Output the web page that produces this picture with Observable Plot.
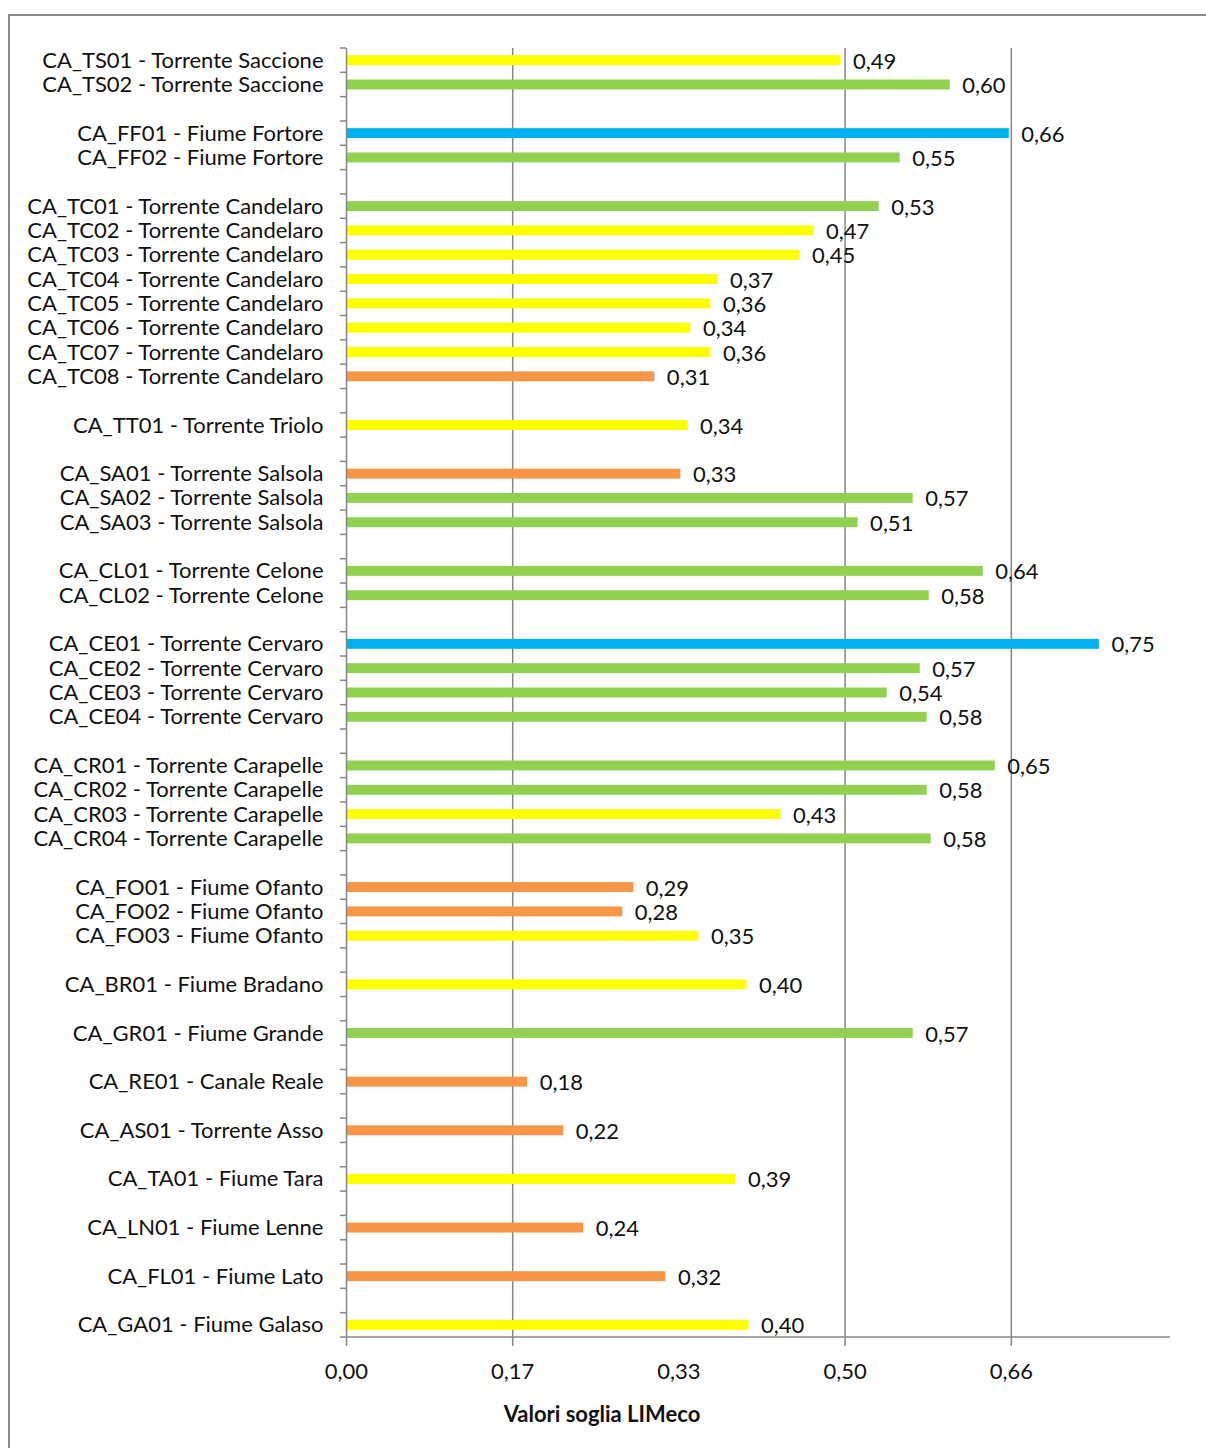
<!DOCTYPE html>
<html>
<head>
<meta charset="utf-8">
<script src="https://cdn.jsdelivr.net/npm/d3@7"></script>
<script src="https://cdn.jsdelivr.net/npm/@observablehq/plot@0.6"></script>
<style>
  html, body { margin: 0; padding: 0; background: #fff; }
  #wrap { position: relative; width: 1206px; height: 1448px; overflow: hidden; background: #fff; }
  #frame { position: absolute; left: 8px; top: 14px; width: 1400px; height: 1600px;
           border-top: 2px solid #8a8a8a; border-left: 2px solid #8a8a8a; box-sizing: border-box; }
  #chart { position: absolute; left: 0; top: 0; }
  #xtitle { position: absolute; left: 0; top: 1400px; width: 1204px; text-align: center;
            font-family: Lato, sans-serif; font-weight: bold; font-size: 22px; color: #111; }
</style>
</head>
<body>
<div id="wrap">
  <div id="frame"></div>
  <div id="chart"></div>
  <div id="xtitle">Valori soglia LIMeco</div>
</div>
<script>
// ---- data ----
const stations = [
  "CA_TS01 - Torrente Saccione", "CA_TS02 - Torrente Saccione",
  "CA_FF01 - Fiume Fortore", "CA_FF02 - Fiume Fortore",
  "CA_TC01 - Torrente Candelaro", "CA_TC02 - Torrente Candelaro", "CA_TC03 - Torrente Candelaro",
  "CA_TC04 - Torrente Candelaro", "CA_TC05 - Torrente Candelaro", "CA_TC06 - Torrente Candelaro",
  "CA_TC07 - Torrente Candelaro", "CA_TC08 - Torrente Candelaro",
  "CA_TT01 - Torrente Triolo",
  "CA_SA01 - Torrente Salsola", "CA_SA02 - Torrente Salsola", "CA_SA03 - Torrente Salsola",
  "CA_CL01 - Torrente Celone", "CA_CL02 - Torrente Celone",
  "CA_CE01 - Torrente Cervaro", "CA_CE02 - Torrente Cervaro", "CA_CE03 - Torrente Cervaro", "CA_CE04 - Torrente Cervaro",
  "CA_CR01 - Torrente Carapelle", "CA_CR02 - Torrente Carapelle", "CA_CR03 - Torrente Carapelle", "CA_CR04 - Torrente Carapelle",
  "CA_FO01 - Fiume Ofanto", "CA_FO02 - Fiume Ofanto", "CA_FO03 - Fiume Ofanto",
  "CA_BR01 - Fiume Bradano",
  "CA_GR01 - Fiume Grande",
  "CA_RE01 - Canale Reale",
  "CA_AS01 - Torrente Asso",
  "CA_TA01 - Fiume Tara",
  "CA_LN01 - Fiume Lenne",
  "CA_FL01 - Fiume Lato",
  "CA_GA01 - Fiume Galaso"
];
const values = [
  0.494, 0.603,
  0.662, 0.553,
  0.532, 0.467, 0.453, 0.371, 0.364, 0.344, 0.364, 0.308,
  0.341,
  0.334, 0.566, 0.511,
  0.636, 0.582,
  0.752, 0.573, 0.540, 0.580,
  0.648, 0.580, 0.434, 0.584,
  0.287, 0.276, 0.352,
  0.400,
  0.566,
  0.181,
  0.217,
  0.389,
  0.237,
  0.319,
  0.402
];
const classes = [
  "sufficiente", "buono",
  "elevato", "buono",
  "buono", "sufficiente", "sufficiente", "sufficiente", "sufficiente", "sufficiente", "sufficiente", "scarso",
  "sufficiente",
  "scarso", "buono", "buono",
  "buono", "buono",
  "elevato", "buono", "buono", "buono",
  "buono", "buono", "sufficiente", "buono",
  "scarso", "scarso", "sufficiente",
  "sufficiente",
  "buono",
  "scarso",
  "scarso",
  "sufficiente",
  "scarso",
  "scarso",
  "sufficiente"
];
const groupSizes = [2, 2, 8, 1, 3, 2, 4, 4, 3, 1, 1, 1, 1, 1, 1, 1, 1];
const classNames = ["elevato", "buono", "sufficiente", "scarso"];
const classColors = ["#00B0F0", "#92D050", "#FFFF00", "#F79646"];
const xTicks = [0, 0.166, 0.332, 0.498, 0.664];
const gridValues = [0.166, 0.498, 0.664];
const xMax = 0.823;

// ---- build ----
const slots = [];
let k = 0;
groupSizes.forEach((n, g) => {
  if (g > 0) slots.push("gap" + g);
  for (let i = 0; i < n; i++) slots.push(stations[k++]);
});
const data = stations.map((s, i) => ({station: s, value: values[i], cls: classes[i]}));
const fmt = v => d3.format(".2f")(v).replace(".", ",");
const AX = "#868686";

const plot = Plot.plot({
  width: 1206,
  height: 1390,
  marginLeft: 346,
  marginRight: 36,
  marginTop: 48,
  marginBottom: 53,
  style: {fontFamily: "Lato, sans-serif", fontSize: "22px", color: "#111", background: "transparent", overflow: "visible"},
  x: {domain: [0, xMax], ticks: xTicks, tickFormat: fmt, tickSize: 0, tickPadding: 26, label: null},
  y: {domain: slots, padding: 0, round: false, tickSize: 0, tickPadding: 23,
      tickFormat: d => d.startsWith("gap") ? "" : d, label: null},
  color: {domain: classNames, range: classColors},
  marks: [
    Plot.ruleX(gridValues, {stroke: AX, strokeWidth: 1.5, insetBottom: -9}),
    Plot.barX(data, {y: "station", x: "value", fill: "cls", insetTop: 7.2, insetBottom: 7.2}),
    Plot.ruleX([0], {stroke: AX, strokeWidth: 1.5, insetBottom: -9}),
    Plot.text(data, {y: "station", x: "value", text: d => fmt(d.value), textAnchor: "start",
                     dx: 12, dy: 1, fontSize: 22, fill: "#111"})
  ]
});

// category boundary ticks and x axis line from the scales
const svg = d3.select(plot);
const ys = plot.scale("y"), xs = plot.scale("x");
const [ya, yb] = ys.range;
const step = (yb - ya) / ys.domain.length;
const x0 = xs.apply(0);
const g = svg.append("g").attr("stroke", AX).attr("stroke-width", 1.5);
for (let i = 0; i <= ys.domain.length; i++) {
  const yy = ya + i * step;
  g.append("line").attr("x1", x0 - 6).attr("x2", x0).attr("y1", yy).attr("y2", yy);
}
g.append("line").attr("x1", x0).attr("x2", xs.range[1]).attr("y1", yb).attr("y2", yb);

document.getElementById("chart").appendChild(plot);
</script>
</body>
</html>
